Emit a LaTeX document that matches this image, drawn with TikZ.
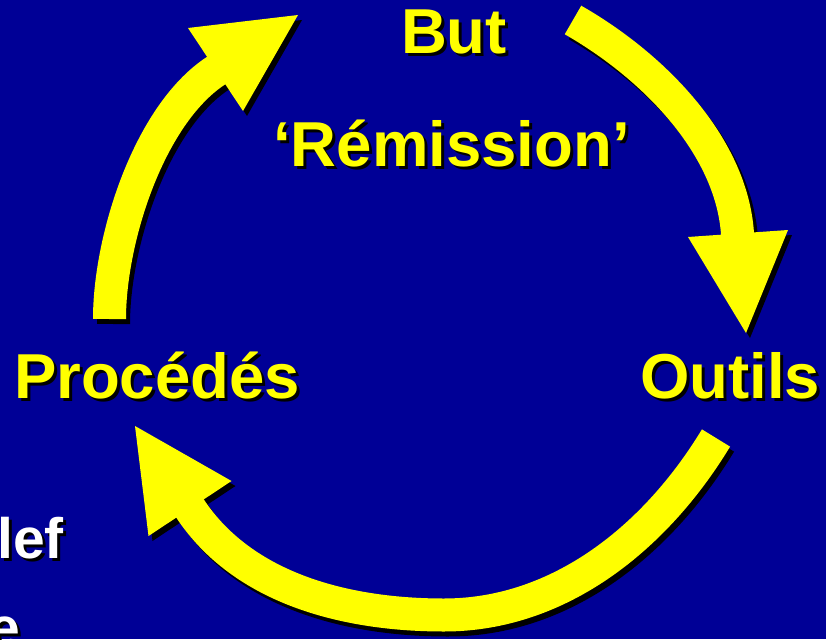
\documentclass[tikz,border=0pt]{standalone}
\usepackage{fontspec}
\setmainfont{Liberation Sans}
\definecolor{bgblue}{RGB}{0,0,150}
\definecolor{arrowyellow}{RGB}{255,255,0}
\newcommand\cyclearrows[1]{%
  % left arrow (up)
  \draw[shaft,draw=#1] (109.5,319) .. controls (109.5,239) and (148.8,115.2) .. (215.5,71) -- ++(5,-3.3);
  \fill[fill=#1] (188,28) -- (298,15) -- (243,111) -- cycle;
  % right arrow (down)
  \draw[shaft,draw=#1] (573,20) .. controls (651.1,64.6) and (731.2,143.7) .. (737.5,233.5) -- ++(0.4,6);
  \fill[fill=#1] (688,237) -- (746,333) -- (788,230) -- cycle;
  % bottom arrow (left)
  \draw[shaft,draw=#1] (716,438) .. controls (656,537) and (560,615) .. (444,615)
        .. controls (347,615) and (243.6,589.4) .. (190,508.5) -- ++(-3.3,-5);
  \fill[fill=#1] (231.5,481) -- (135,426) -- (148.5,536) -- cycle;
}
\begin{document}
\begin{tikzpicture}[x=1pt,y=-1pt,
  shaft/.style={line width=33pt,line cap=butt,line join=round},
  lbl/.style={font=\bfseries\fontsize{63.5}{70}\selectfont,inner sep=0pt,anchor=base},
  small/.style={font=\bfseries\fontsize{57}{64}\selectfont,inner sep=0pt,anchor=base east}]
\fill[bgblue] (0,0) rectangle (826,639);
\useasboundingbox (0,0) rectangle (826,639);
% shadows of arrows
\begin{scope}[shift={(4,5)}]
  \cyclearrows{black}
\end{scope}
% arrows
\cyclearrows{arrowyellow}
% labels with shadows
\node[lbl,text=black] (butS) at (457,57) {But};
\node[lbl,text=arrowyellow] (but) at (454,54) {But};
\node[lbl,text=black] (remS) at (454.5,170) {‘Rémission’};
\node[lbl,text=arrowyellow] (rem) at (451.5,167) {‘Rémission’};
\node[lbl,text=black] (procS) at (160,401) {Procédés};
\node[lbl,text=arrowyellow] (proc) at (157,398) {Procédés};
\node[lbl,text=black] (outS) at (733,401) {Outils};
\node[lbl,text=arrowyellow] (out) at (730,398) {Outils};
\node[small,text=black] (lefS) at (67,561) {lef};
\node[small,text=white] (lef) at (64,558) {lef};
\node[small,text=black] (eS) at (23,650) {e};
\node[small,text=white] (e) at (20,647) {e};
\end{tikzpicture}
\end{document}
